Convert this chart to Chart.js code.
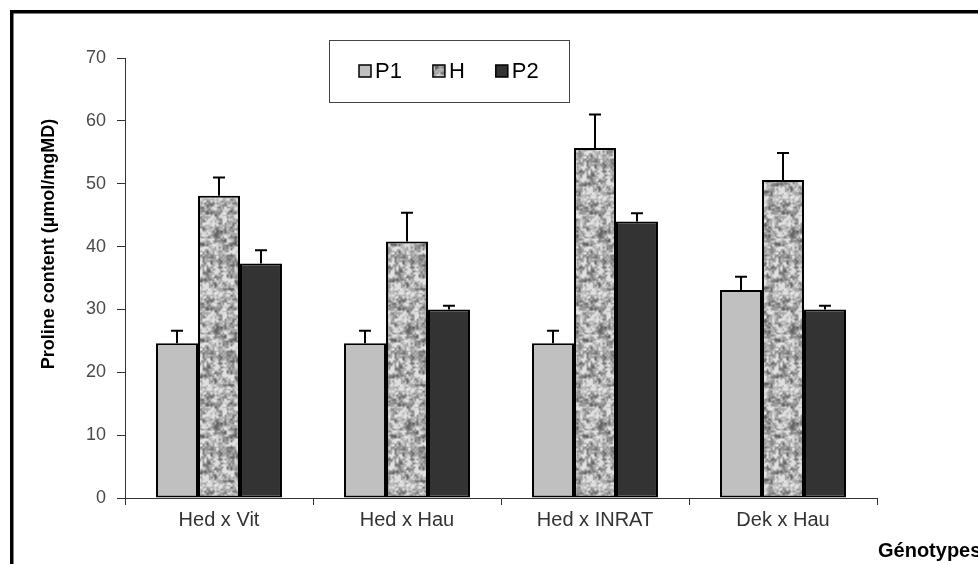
<!DOCTYPE html>
<html>
<head>
<meta charset="utf-8">
<script src="https://cdn.jsdelivr.net/npm/chart.js@4.4.1/dist/chart.umd.min.js"></script>
<style>
  html, body { margin: 0; padding: 0; background: #fff; overflow: hidden; }
</style>
</head>
<body>
<canvas id="chart" width="978" height="564"></canvas>
<script>
const genotypes = ["Hed x Vit", "Hed x Hau", "Hed x INRAT", "Dek x Hau"];
const p1Values = [24.6, 24.6, 24.6, 33.1];
const hValues = [48.1, 40.8, 55.7, 50.6];
const p2Values = [37.3, 30.0, 44.0, 30.0];
const p1Errors = [2.0, 2.0, 2.0, 2.1];
const hErrors = [2.9, 4.6, 5.3, 4.3];
const p2Errors = [2.1, 0.6, 1.3, 0.6];
const yTicks = [0, 10, 20, 30, 40, 50, 60, 70];

const FONT = "'Liberation Sans', Arial, sans-serif";

// mottled grey texture used for the H bars (deterministic value noise)
function makeTexture() {
    const size = 96;
    const cv = document.createElement('canvas');
    cv.width = size;
    cv.height = size;
    const g = cv.getContext('2d');
    const img = g.createImageData(size, size);
    const hash = (x, y) => {
        const s = Math.sin(x * 127.1 + y * 311.7) * 43758.5453;
        return s - Math.floor(s);
    };
    const smooth = t => t * t * (3 - 2 * t);
    function noise(px, py, cell) {
        const n = size / cell;
        const gx = px / cell, gy = py / cell;
        const ix = Math.floor(gx), iy = Math.floor(gy);
        const fx = smooth(gx - ix), fy = smooth(gy - iy);
        const a = hash(ix % n, iy % n), b = hash((ix + 1) % n, iy % n);
        const c = hash(ix % n, (iy + 1) % n), d = hash((ix + 1) % n, (iy + 1) % n);
        return (a + (b - a) * fx) * (1 - fy) + (c + (d - c) * fx) * fy;
    }
    for (let y = 0; y < size; y++) {
        for (let x = 0; x < size; x++) {
            const v = 0.55 * noise(x, y, 4) + 0.45 * noise(x + 11, y + 7, 2);
            let grey = 70 + v * 210;
            grey = Math.max(100, Math.min(225, grey));
            const k = (y * size + x) * 4;
            img.data[k] = grey;
            img.data[k + 1] = grey;
            img.data[k + 2] = grey;
            img.data[k + 3] = 255;
        }
    }
    g.putImageData(img, 0, 0);
    return g.createPattern(cv, 'repeat');
}

const texture = makeTexture();

// black frame on the left and top edges
const framePlugin = {
    id: 'frame',
    beforeDraw(chart) {
        const ctx = chart.ctx;
        ctx.save();
        ctx.fillStyle = '#fff';
        ctx.fillRect(0, 0, chart.width, chart.height);
        ctx.fillStyle = '#000';
        ctx.fillRect(10, 10, 3.5, chart.height - 10);
        ctx.fillRect(10, 10, chart.width - 10, 3.5);
        ctx.restore();
    }
};

// upper error bars with caps
const errorBarPlugin = {
    id: 'errorBars',
    afterDatasetsDraw(chart) {
        const ctx = chart.ctx;
        const yScale = chart.scales.y;
        ctx.save();
        ctx.strokeStyle = '#000';
        ctx.lineWidth = 2;
        chart.data.datasets.forEach((ds, i) => {
            const meta = chart.getDatasetMeta(i);
            meta.data.forEach((bar, j) => {
                const top = yScale.getPixelForValue(ds.data[j] + ds.errors[j]);
                ctx.beginPath();
                ctx.moveTo(bar.x, bar.y);
                ctx.lineTo(bar.x, top);
                ctx.moveTo(bar.x - 6, top);
                ctx.lineTo(bar.x + 6, top);
                ctx.stroke();
            });
        });
        ctx.restore();
    }
};

// boxed legend + axis titles
const decorPlugin = {
    id: 'decor',
    afterDraw(chart) {
        const ctx = chart.ctx;
        ctx.save();
        // legend box
        ctx.fillStyle = '#fff';
        ctx.fillRect(329, 40, 240, 62);
        ctx.strokeStyle = '#444';
        ctx.lineWidth = 1;
        ctx.strokeRect(329.5, 40.5, 240, 62);
        ctx.font = `22px ${FONT}`;
        ctx.textBaseline = 'middle';
        ctx.textAlign = 'left';
        let x = 359;
        chart.data.datasets.forEach(ds => {
            ctx.fillStyle = ds.backgroundColor;
            ctx.fillRect(x, 65, 12, 12);
            ctx.strokeStyle = '#000';
            ctx.lineWidth = 1.5;
            ctx.strokeRect(x, 65, 12, 12);
            ctx.fillStyle = '#000';
            ctx.fillText(ds.label, x + 16, 72);
            x += 16 + ctx.measureText(ds.label).width + 31;
        });
        // y title
        ctx.translate(49, 244);
        ctx.rotate(-Math.PI / 2);
        ctx.font = `bold 18px ${FONT}`;
        ctx.textAlign = 'center';
        ctx.fillStyle = '#000';
        ctx.fillText('Proline content (µmol/mgMD)', 0, 0);
        ctx.restore();
        // x title
        ctx.save();
        ctx.font = `bold 20px ${FONT}`;
        ctx.textAlign = 'left';
        ctx.textBaseline = 'middle';
        ctx.fillStyle = '#000';
        ctx.fillText('Génotypes', 878, 551);
        ctx.restore();
    }
};

const ctx = document.getElementById('chart').getContext('2d');
new Chart(ctx, {
    type: 'bar',
    data: {
        labels: genotypes,
        datasets: [
            { label: 'P1', data: p1Values, errors: p1Errors, backgroundColor: '#c0c0c0' },
            { label: 'H', data: hValues, errors: hErrors, backgroundColor: texture },
            { label: 'P2', data: p2Values, errors: p2Errors, backgroundColor: '#333333' }
        ]
    },
    options: {
        responsive: false,
        animation: false,
        layout: { padding: { top: 58, right: 101, bottom: 30, left: 0 } },
        datasets: {
            bar: {
                categoryPercentage: 0.67,
                barPercentage: 1,
                borderColor: '#000',
                borderWidth: 2,
                borderSkipped: false
            }
        },
        plugins: {
            legend: { display: false },
            tooltip: { enabled: false }
        },
        scales: {
            x: {
                grid: { drawOnChartArea: false, tickLength: 7, color: '#333', offset: true },
                border: { color: '#333', width: 1 },
                ticks: { font: { family: FONT, size: 20 }, color: '#333', padding: 3 },
                afterFit(scale) { scale.height = 36; }
            },
            y: {
                min: 0,
                max: 70,
                grid: { drawOnChartArea: false, tickLength: 8, color: '#333' },
                border: { color: '#333', width: 1 },
                ticks: { font: { family: FONT, size: 18 }, color: '#4a4a4a', padding: 11 },
                afterBuildTicks(scale) { scale.ticks = yTicks.map(v => ({ value: v })); },
                afterFit(scale) { scale.width = 125; }
            }
        }
    },
    plugins: [framePlugin, errorBarPlugin, decorPlugin]
});
</script>
</body>
</html>
